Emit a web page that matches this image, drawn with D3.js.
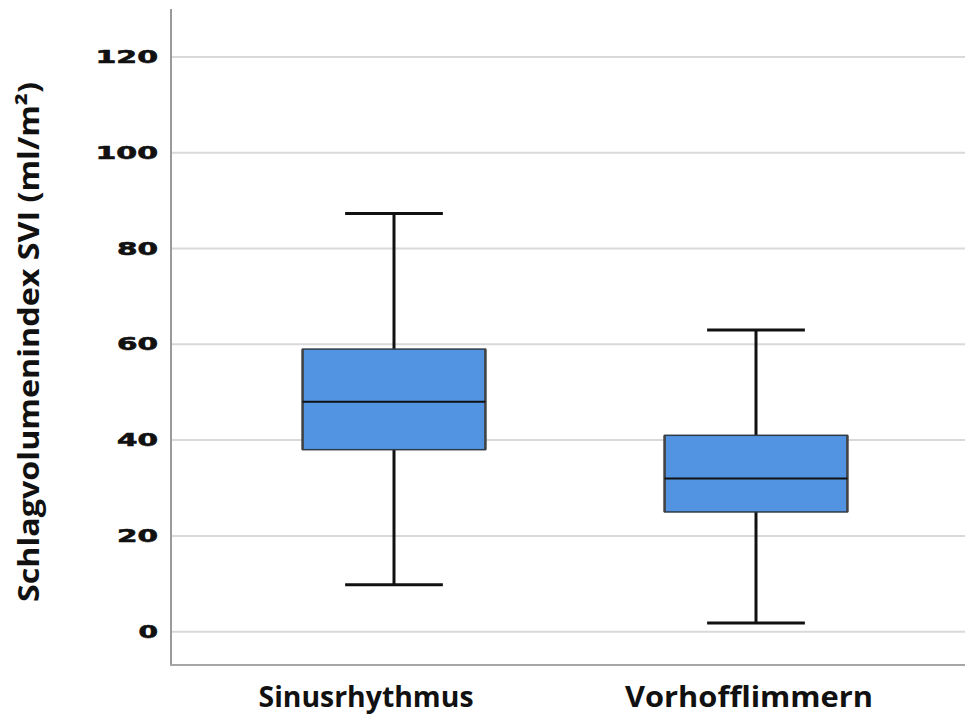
<!DOCTYPE html>
<meta charset='utf-8'>
<style>
  body { margin: 0; background: #fff; }
  .grid line { stroke: #d9d9d9; stroke-width: 2; }
  .tick-label { font: bold 17px 'DejaVu Sans', sans-serif; fill: #111; stroke: #111; stroke-width: 0.6; }
  .cat-label, .y-title { font-family: 'Open Sans', 'Noto Sans', sans-serif; font-weight: bold; fill: #111; }
</style>
<body>
<script src='https://d3js.org/d3.v7.min.js'></script>
<script>
  const categories = ['Sinusrhythmus', 'Vorhofflimmern']
  const whiskerLow = [9.8, 1.8]
  const q1 = [38, 25]
  const median = [48, 32]
  const q3 = [59, 41]
  const whiskerHigh = [87.3, 63]
  const yTicks = [0, 20, 40, 60, 80, 100, 120]
  const yTitle = 'Schlagvolumenindex SVI (ml/m²)'

  const boxes = categories.map((c, i) => ({
    cat: c, lo: whiskerLow[i], q1: q1[i], med: median[i], q3: q3[i], hi: whiskerHigh[i]
  }))

  const W = 965, H = 724
  const axisX = 171, axisBottom = 665, axisTop = 9
  // label placement tweaks (offset from box centre, rendered width)
  const labelShift = [-28, -7]
  const labelWidth = [215, 248]

  const svg = d3.select('body').append('svg')
    .attr('width', W).attr('height', H)

  const y = d3.scaleLinear().domain([-6.95, 130]).range([axisBottom, axisTop])
  const x = d3.scaleBand().domain(categories).range([213, 937]).padding(0)
  const boxW = x.bandwidth() * 0.505
  const capW = x.bandwidth() * 0.27

  // grid lines
  svg.append('g').attr('class', 'grid')
    .selectAll('line').data(yTicks).join('line')
    .attr('x1', axisX).attr('x2', W)
    .attr('y1', d => y(d)).attr('y2', d => y(d))

  // tick labels (wide, bold)
  svg.append('g').selectAll('text').data(yTicks).join('text')
    .attr('class', 'tick-label')
    .attr('x', 158).attr('y', d => y(d))
    .attr('dy', '0.36em')
    .attr('text-anchor', 'end')
    .attr('textLength', d => String(d).length * 21.5 - 2)
    .attr('lengthAdjust', 'spacingAndGlyphs')
    .text(d => d)

  // axes lines
  svg.append('line')
    .attr('x1', axisX).attr('x2', axisX)
    .attr('y1', axisTop).attr('y2', axisBottom)
    .attr('stroke', '#9a9a9a').attr('stroke-width', 2)
  svg.append('line')
    .attr('x1', axisX - 1).attr('x2', W)
    .attr('y1', axisBottom).attr('y2', axisBottom)
    .attr('stroke', '#a6a6a6').attr('stroke-width', 2)

  const g = svg.append('g').selectAll('g').data(boxes).join('g')
    .attr('transform', d => `translate(${x(d.cat) + x.bandwidth() / 2},0)`)

  // whiskers
  g.append('line')
    .attr('x1', 0).attr('x2', 0)
    .attr('y1', d => y(d.hi)).attr('y2', d => y(d.q3))
    .attr('stroke', '#111').attr('stroke-width', 3)
  g.append('line')
    .attr('x1', 0).attr('x2', 0)
    .attr('y1', d => y(d.q1)).attr('y2', d => y(d.lo))
    .attr('stroke', '#111').attr('stroke-width', 3)
  // caps
  g.append('line')
    .attr('x1', -capW / 2).attr('x2', capW / 2)
    .attr('y1', d => y(d.hi)).attr('y2', d => y(d.hi))
    .attr('stroke', '#111').attr('stroke-width', 3)
  g.append('line')
    .attr('x1', -capW / 2).attr('x2', capW / 2)
    .attr('y1', d => y(d.lo)).attr('y2', d => y(d.lo))
    .attr('stroke', '#111').attr('stroke-width', 3)

  // boxes
  g.append('rect')
    .attr('x', -boxW / 2).attr('width', boxW)
    .attr('y', d => y(d.q3))
    .attr('height', d => y(d.q1) - y(d.q3))
    .attr('fill', '#5294e2')
    .attr('stroke', '#2e3a48').attr('stroke-width', 1.5)
  // darker side edges
  g.selectAll('.side').data(d => [-1, 1].map(s => ({ s, d }))).join('line')
    .attr('x1', o => o.s * boxW / 2).attr('x2', o => o.s * boxW / 2)
    .attr('y1', o => y(o.d.q3)).attr('y2', o => y(o.d.q1))
    .attr('stroke', '#444').attr('stroke-width', 2.5)
  // median
  g.append('line')
    .attr('x1', -boxW / 2).attr('x2', boxW / 2)
    .attr('y1', d => y(d.med)).attr('y2', d => y(d.med))
    .attr('stroke', '#111').attr('stroke-width', 2)

  // category labels
  svg.append('g').selectAll('text').data(categories).join('text')
    .attr('class', 'cat-label')
    .attr('x', (d, i) => x(d) + x.bandwidth() / 2 + labelShift[i])
    .attr('y', 707)
    .attr('text-anchor', 'middle')
    .attr('textLength', (d, i) => labelWidth[i])
    .attr('lengthAdjust', 'spacingAndGlyphs')
    .style('font-size', '29px')
    .text(d => d)

  // y title
  svg.append('text')
    .attr('class', 'y-title')
    .attr('transform', 'translate(39,342) rotate(-90)')
    .attr('text-anchor', 'middle')
    .attr('textLength', 520)
    .attr('lengthAdjust', 'spacingAndGlyphs')
    .style('font-size', '28px')
    .text(yTitle)
</script>
</body>
